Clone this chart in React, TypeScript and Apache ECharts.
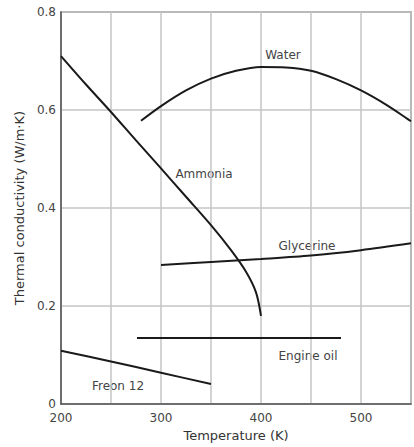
import React, { useEffect, useRef } from "react";
import * as echarts from "echarts";

const water: [number, number][] = [
  [280, 0.578], [300, 0.608], [325, 0.64], [350, 0.664], [375, 0.68], [400, 0.688],
  [425, 0.687], [450, 0.68], [475, 0.663], [500, 0.64], [525, 0.611], [550, 0.577],
];
const ammonia: [number, number][] = [
  [200, 0.71], [225, 0.652], [250, 0.596], [275, 0.538], [300, 0.481], [325, 0.423],
  [350, 0.365], [370, 0.314], [385, 0.27], [395, 0.228], [400, 0.18],
];
const glycerine: [number, number][] = [
  [300, 0.284], [350, 0.29], [400, 0.296], [450, 0.303], [500, 0.314], [550, 0.328],
];
const engineOil: [number, number][] = [
  [276, 0.135], [480, 0.135],
];
const freon12: [number, number][] = [
  [200, 0.109], [250, 0.087], [300, 0.064], [350, 0.041],
];

const xTicks = [200, 300, 400, 500];
const yTicks = [0, 0.2, 0.4, 0.6, 0.8];

const labelFont = "'DejaVu Sans', sans-serif";

export default function App() {
  const ref = useRef<HTMLDivElement>(null);
  useEffect(() => {
    if (!ref.current) return;
    const chart = echarts.init(ref.current, null, { renderer: "svg" });
    const lineSeries = (name: string, data: [number, number][]) => ({
      name,
      type: "line",
      data,
      smooth: 0.3,
      showSymbol: false,
      symbol: "none",
      lineStyle: { color: "#1a1a1a", width: 2 },
      z: 5,
    });
    const txt = (text: string, x: number, y: number) => ({
      type: "text",
      x,
      y,
      style: {
        text,
        fill: "#444",
        font: `12px ${labelFont}`,
        textAlign: "center",
        textVerticalAlign: "middle",
      },
    });
    chart.setOption({
      animation: false,
      backgroundColor: "#fff",
      grid: {
        left: 61,
        right: 2,
        top: 12,
        bottom: 37,
        show: true,
        borderColor: "#777",
        borderWidth: 1.5,
      },
      xAxis: {
        type: "value",
        min: 200,
        max: 550,
        interval: 50,
        name: "Temperature (K)",
        nameLocation: "middle",
        nameGap: 21,
        nameTextStyle: { color: "#333", fontSize: 13, fontFamily: labelFont },
        axisLine: { show: true, lineStyle: { color: "#555", width: 1.5 } },
        axisTick: { show: false },
        axisLabel: {
          color: "#444",
          fontSize: 12,
          fontFamily: labelFont,
          margin: 8,
          formatter: (v: number) => (xTicks.includes(v) ? String(v) : ""),
        },
        splitLine: { show: true, lineStyle: { color: "#c4c4c4", width: 1.5 } },
      },
      yAxis: {
        type: "value",
        min: 0,
        max: 0.8,
        interval: 0.2,
        name: "Thermal conductivity (W/m·K)",
        nameLocation: "middle",
        nameGap: 30,
        nameRotate: 90,
        nameTextStyle: { color: "#333", fontSize: 13, fontFamily: labelFont },
        axisLine: { show: true, lineStyle: { color: "#555", width: 1.5 } },
        axisTick: { show: false },
        axisLabel: {
          color: "#444",
          fontSize: 12,
          fontFamily: labelFont,
          margin: 5,
          formatter: (v: number) => {
            const t = yTicks.find((k) => Math.abs(k - v) < 1e-6);
            if (t === undefined) return "";
            return t === 0 ? "0" : t.toFixed(1);
          },
        },
        splitLine: { show: true, lineStyle: { color: "#c4c4c4", width: 1.5 } },
      },
      series: [
        lineSeries("Water", water),
        lineSeries("Ammonia", ammonia),
        lineSeries("Glycerine", glycerine),
        lineSeries("Engine oil", engineOil),
        lineSeries("Freon 12", freon12),
      ],
      graphic: [
        txt("Water", 283, 55),
        txt("Ammonia", 204, 174),
        txt("Glycerine", 307, 246),
        txt("Engine oil", 308, 356),
        txt("Freon 12", 118, 386),
      ],
    });
    return () => chart.dispose();
  }, []);
  return (
    <div
      ref={ref}
      style={{ position: "fixed", left: 0, top: 0, width: 414, height: 447 }}
    />
  );
}
